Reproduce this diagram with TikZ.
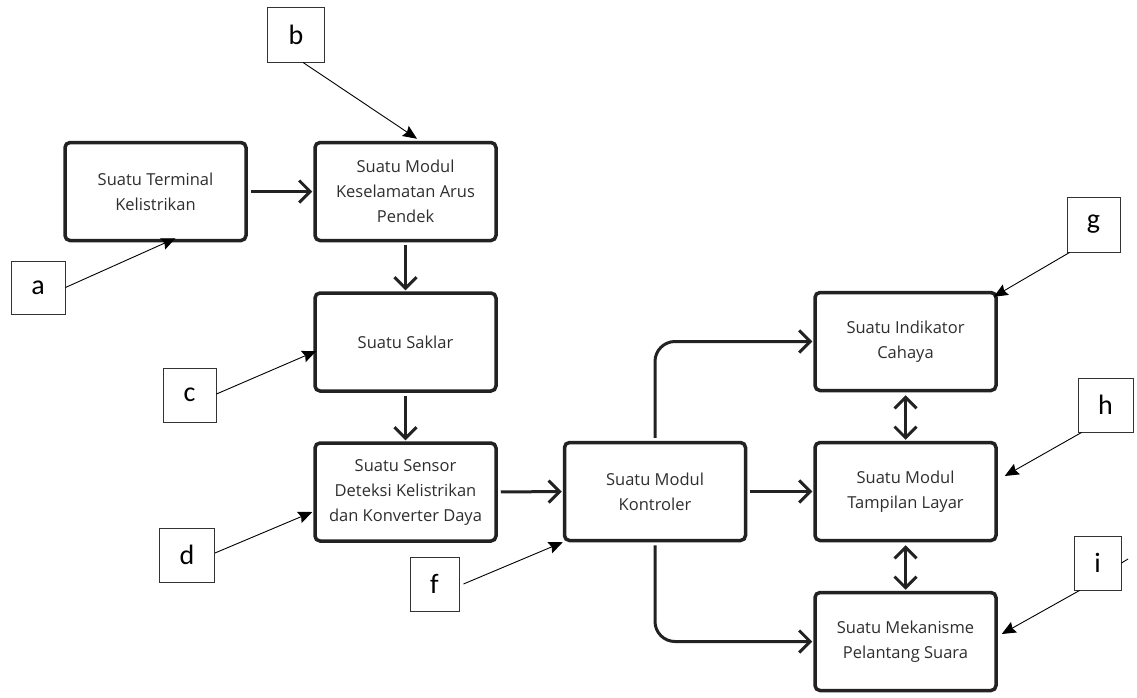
\documentclass[tikz,border=0pt]{standalone}
\usepackage{fontspec}
\setmainfont{Open Sans}
\newfontfamily\tagfont{Carlito}
\usetikzlibrary{arrows.meta}
\definecolor{inkgray}{HTML}{222222}
\definecolor{textgray}{HTML}{2E2E2E}

\begin{document}
\begin{tikzpicture}
  [x=1pt,y=-1pt,
  blockdecorate/.style={shape=rectangle,rounded corners=5pt,draw=inkgray,line width=3.5pt,
    minimum width=181pt,minimum height=98pt,inner sep=2pt,align=center,text=textgray,
    font=\fontsize{16.5}{25}\selectfont},
  tagdecorate/.style={shape=rectangle,draw=black!80,line width=0.9pt,inner sep=0pt,
    font=\tagfont\fontsize{28}{28}\selectfont},
  flowdecorate/.style={-{Straight Barb[length=11pt,width=22pt]},line width=3pt,draw=inkgray,
    shorten <=3pt,shorten >=1pt},
  pointdecorate/.style={-{Stealth[length=14pt,width=12pt,inset=2pt]},line width=0.9pt}]

  \useasboundingbox (0,0) rectangle (1137,697);

  %% blocks
  \foreach \nodename/\x/\y/\txt in {
    term/155.5/191.5/{Suatu Terminal\\Kelistrikan},
    safety/405.5/191.5/{Suatu Modul\\Keselamatan Arus\\Pendek},
    switch/405.5/342/{Suatu Saklar},
    sensor/405.5/492/{Suatu Sensor\\Deteksi Kelistrikan\\dan Konverter Daya},
    ctrl/655/491.5/{Suatu Modul\\Kontroler},
    light/905.5/341.5/{Suatu Indikator\\Cahaya},
    screen/905.5/491.5/{Suatu Modul\\Tampilan Layar},
    speaker/905.5/641.5/{Suatu Mekanisme\\Pelantang Suara}}
  {
    \node (\nodename) at (\x,\y) [blockdecorate] {\txt};
  }

  %% reference letters
  \foreach \nodename/\x/\y/\w/\h in {a/38/287.5/54/53, b/296/34.5/57/55,
    c/189.5/395/53/54, d/187/555/55/54, f/434.5/584/49/54,
    g/1093.5/224.5/53/55, h/1105.5/405/55/54, i/1097.5/563/47/54}
  {
    \node (\nodename) at (\x,\y) [tagdecorate,minimum width=\w pt,minimum height=\h pt] {\nodename};
  }
  \coordinate (istub) at (1128,559);

  %% flow between blocks
  \path
  \foreach \startnode/\endnode in {term.east/safety.west, safety.south/switch.north,
    switch.south/sensor.north, sensor.east/ctrl.west, ctrl.east/screen.west}
  {
    (\startnode) edge[flowdecorate] (\endnode)
  };
  \draw[flowdecorate,rounded corners=20pt] (ctrl.north) |- (light.west);
  \draw[flowdecorate,rounded corners=20pt] (ctrl.south) |- (speaker.west);
  \draw[flowdecorate,{Straight Barb[length=11pt,width=22pt]}-{Straight Barb[length=11pt,width=22pt]}]
    (light.south) -- (screen.north);
  \draw[flowdecorate,{Straight Barb[length=11pt,width=22pt]}-{Straight Barb[length=11pt,width=22pt]}]
    (screen.south) -- (speaker.north);

  %% pointers from letters
  \foreach \from/\fx/\fy/\to/\tx/\ty in {a.east/0/0/term.south/20/-4,
    b.south/7/0/safety.north/11.5/-2, c.east/0/-1/switch.west/3/9,
    d.east/0/-2/sensor.west/-1/20, f.east/4/0/ctrl.south west/0/0,
    g.south west/3/0/light.north east/-4/6, h.south west/4/0/screen.east/7/-15.5,
    i.south west/6/0/speaker.east/4/-7.5}
  {
    \draw[pointdecorate] ([shift={(\fx,\fy)}]\from) -- ([shift={(\tx,\ty)}]\to);
  }
  \draw[line width=0.9pt] (i.east) -- (istub);
\end{tikzpicture}
\end{document}
